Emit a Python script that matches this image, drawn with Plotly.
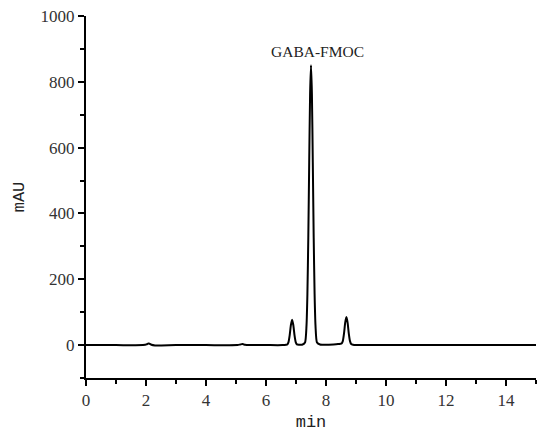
import plotly.graph_objects as go

# chromatogram trace (retention time in min, signal in mAU)
time_min = [0, 1.0, 1.9, 2.02, 2.08, 2.12, 2.18, 2.3, 3.0, 4.0, 5.05, 5.15, 5.22, 5.3, 5.45,
            6.0, 6.55, 6.67, 6.71, 6.75, 6.79, 6.83, 6.87, 6.91, 6.95, 6.99, 7.03, 7.1, 7.2, 7.3,
            7.35, 7.38, 7.41, 7.44, 7.47, 7.5, 7.53, 7.56, 7.59, 7.62, 7.65, 7.7, 7.8,
            8.0, 8.25, 8.4, 8.48, 8.52, 8.56, 8.6, 8.64, 8.68, 8.72, 8.76, 8.8, 8.84, 8.9,
            9.0, 9.2, 9.5, 11, 13, 15]
signal_mau = [0, 0, 0, 2, 5, 4, 1, -1, 0, 0, 0, 2, 3, 1, 0,
              0, 0, 1, 2, 9, 30, 61, 77, 61, 30, 9, 2, 1, 1, 8,
              59, 155, 326, 555, 764, 850, 764, 555, 326, 155, 59, 8, 2,
              1, 2, 3, 4, 5, 12, 35, 68, 85, 68, 35, 12, 3, 1,
              0, 0, 0, 0, 0, 0]

peak_label = "GABA-FMOC"
peak_label_pos = (7.73, 892)

font = "Liberation Serif"

fig = go.Figure()
fig.add_trace(go.Scatter(
    x=time_min, y=signal_mau, mode="lines",
    line=dict(color="black", width=2, shape="spline", smoothing=0.6),
    showlegend=False, hoverinfo="skip"
))

fig.add_annotation(x=peak_label_pos[0], y=peak_label_pos[1], text=peak_label,
                   showarrow=False, font=dict(family=font, size=15.5, color="#222"))

axis_style = dict(showline=True, linecolor="black", linewidth=2, ticks="outside",
                  tickcolor="black", tickwidth=2, ticklen=6, showgrid=False, zeroline=False,
                  automargin=False,
                  tickfont=dict(family=font, size=17, color="#333"))

fig.update_xaxes(range=[0, 15], dtick=2, tick0=0,
                 minor=dict(dtick=1, ticks="outside", ticklen=4, tickcolor="black", tickwidth=2),
                 title=dict(text="min", font=dict(family="Liberation Mono", size=17, color="#222"),
                            standoff=6),
                 **axis_style)
fig.update_yaxes(range=[-100, 1000], dtick=200, tick0=0,
                 minor=dict(dtick=100, ticks="outside", ticklen=4, tickcolor="black", tickwidth=2),
                 title=dict(text="mAU", font=dict(family="Liberation Mono", size=17, color="#222"),
                            standoff=12),
                 **axis_style)

fig.update_layout(width=550, height=438, plot_bgcolor="white", paper_bgcolor="white",
                  margin=dict(l=86, r=14, t=16, b=60))

# the page body has a default 8px margin; drop it so the figure fills the window
fig.write_html("out.html", config={"displayModeBar": False},
               post_script="document.body.style.margin='0';")
